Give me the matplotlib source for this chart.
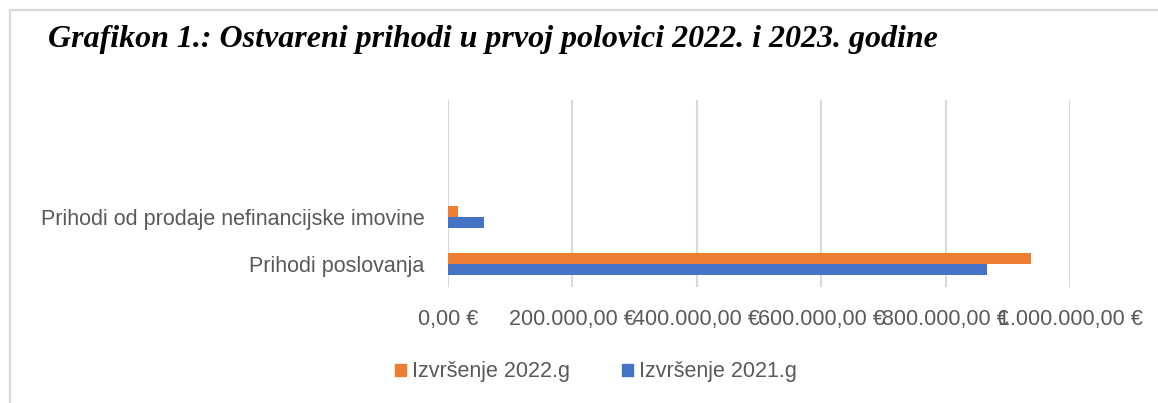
import matplotlib as mpl
import matplotlib.pyplot as plt
from matplotlib.patches import Rectangle, Patch
from matplotlib.ticker import FuncFormatter

CATEGORIES = ["Prihodi poslovanja", "Prihodi od prodaje nefinancijske imovine"]
SERIES_2022 = [938000, 16000]
SERIES_2021 = [867000, 58000]
LABEL_2022 = "Izvršenje 2022.g"
LABEL_2021 = "Izvršenje 2021.g"
TITLE = "Grafikon 1.: Ostvareni prihodi u prvoj polovici 2022. i 2023. godine"
X_TICKS = [0, 200000, 400000, 600000, 800000, 1000000]

ORANGE = "#ED7D31"
BLUE = "#4472C4"
GREY_TXT = "#595959"
GRID = "#D9D9D9"

W, H = 1158, 403


def euro(v, _pos=None):
    s = f"{v:,.2f}"
    s = s.replace(",", "X").replace(".", ",").replace("X", ".")
    return f"{s} €"


mpl.rcParams.update({"font.family": "Liberation Sans", "font.size": 15.5})

fig = plt.figure(figsize=(W / 100, H / 100), dpi=100)
fig.patch.set_facecolor("white")

# outer chart border (only top and left visible in the crop)
fig.add_artist(Rectangle((9.5 / W, -0.1), 1.2, (H - 10) / H + 0.1, transform=fig.transFigure,
                         fill=False, ec="#D9D9D9", lw=1.6))

fig.text(48 / W, 1 - 40 / H, TITLE, fontfamily="Liberation Serif", fontweight="bold",
         fontstyle="italic", fontsize=23, ha="left", va="center", color="black")

ax = fig.add_axes([448 / W, 1 - 287 / H, (1070 - 448) / W, (287 - 100) / H])
pos = list(range(len(CATEGORIES)))
h = 0.235
ax.barh([p + h / 2 for p in pos], SERIES_2022, height=h, color=ORANGE, label=LABEL_2022, zorder=3)
ax.barh([p - h / 2 for p in pos], SERIES_2021, height=h, color=BLUE, label=LABEL_2021, zorder=3)

ax.set_xlim(0, 1000000)
ax.set_ylim(-0.5, 3.5)
ax.set_xticks(X_TICKS)
ax.xaxis.set_major_formatter(FuncFormatter(euro))
ax.set_yticks(pos)
ax.set_yticklabels(CATEGORIES)
ax.tick_params(axis="both", length=0, colors=GREY_TXT, labelsize=15.5)
ax.tick_params(axis="y", pad=17)
ax.tick_params(axis="x", pad=16)
ax.grid(axis="x", color=GRID, lw=1.5, zorder=0)
ax.set_axisbelow(True)
for s in ax.spines.values():
    s.set_visible(False)

handles = [Patch(color=ORANGE, label=LABEL_2022), Patch(color=BLUE, label=LABEL_2021)]
fig.legend(handles=handles, loc="center", bbox_to_anchor=(596 / W, 31 / H), ncol=2,
           frameon=False, handlelength=0.5, handleheight=0.5, handletextpad=0.3,
           columnspacing=2.4, labelcolor=GREY_TXT, fontsize=15.5)

fig.savefig("out.png", dpi=100)
